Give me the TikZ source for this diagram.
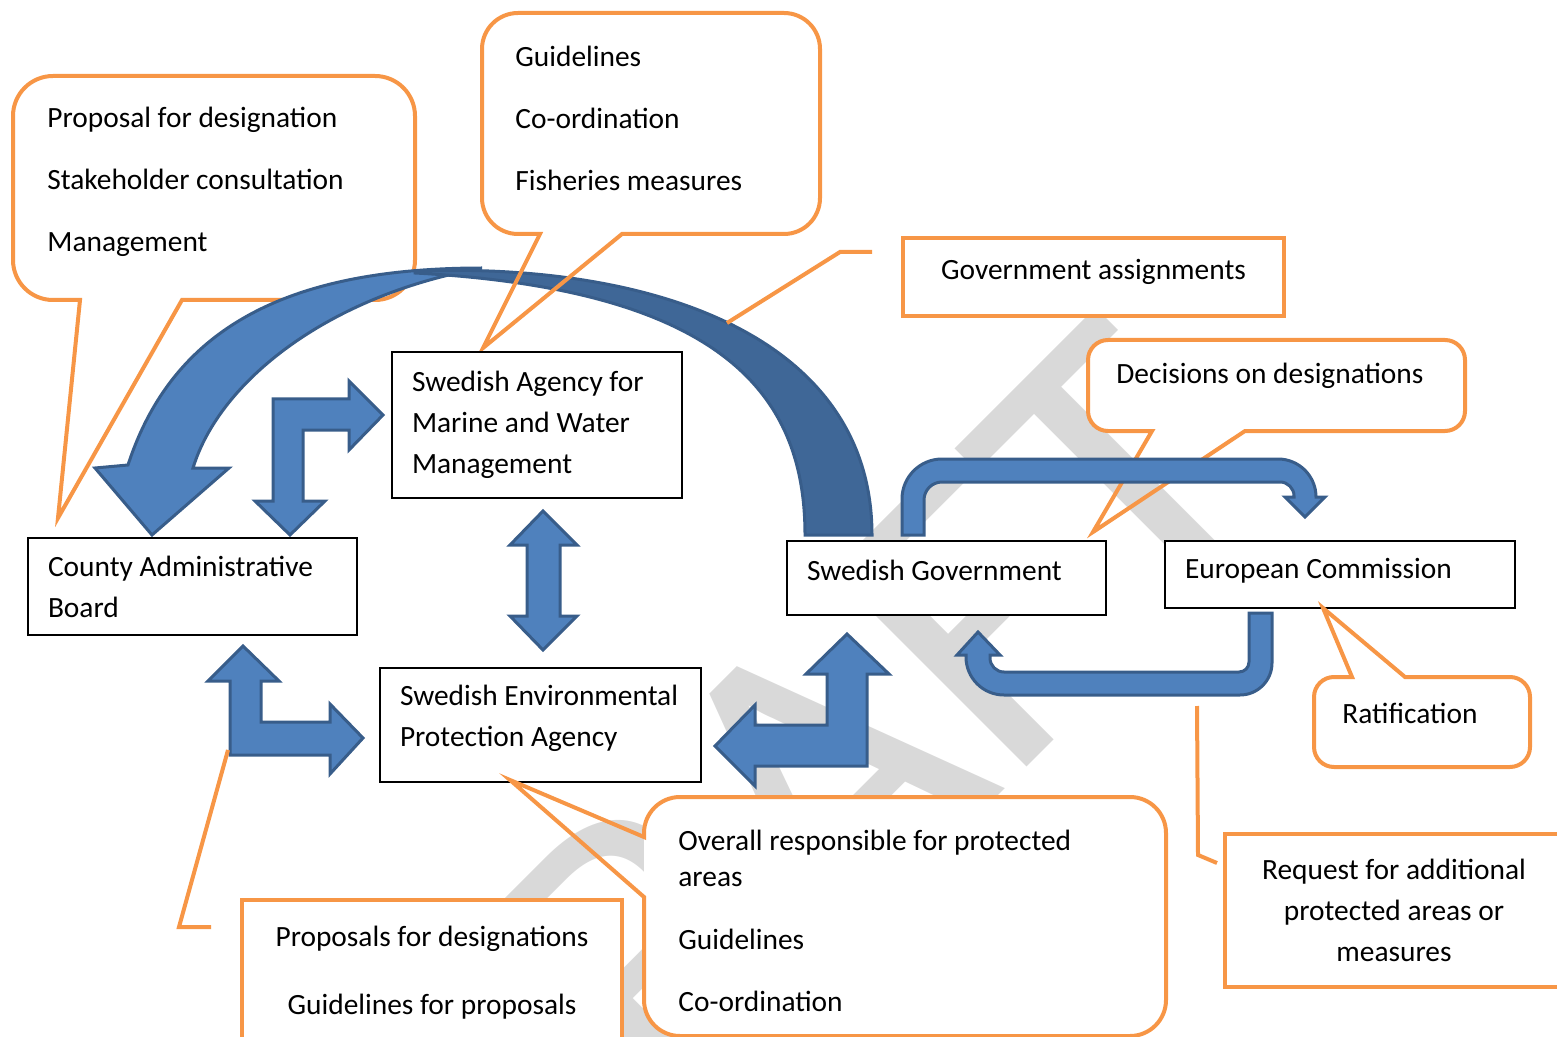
\documentclass[tikz,border=0pt]{standalone}
\usepackage{fontspec}
\setmainfont{Carlito}

\definecolor{callorange}{HTML}{F79646}
\definecolor{arrowblue}{HTML}{4F81BD}
\definecolor{arrowedge}{HTML}{385D8A}
\definecolor{arrowshade}{HTML}{3F6797}
\definecolor{draftgray}{HTML}{D9D9D9}

\tikzset{
  agency/.style={draw=black, line width=0.75pt, fill=white, align=flush left,
    inner xsep=10pt, font=\fontsize{14.7}{20.5}\selectfont},
  callout/.style={draw=callorange, line width=2pt},
  calloutbox/.style={callout, fill=white, align=center,
    font=\fontsize{14.7}{20.5}\selectfont},
  calltext/.style={anchor=west, align=left, inner sep=0pt,
    font=\fontsize{14.7}{20.5}\selectfont},
  blockarrow/.style={fill=arrowblue, draw=arrowedge, line width=1.5pt},
  draftmark/.style={rotate=45, text=draftgray, inner sep=0pt,
    font=\fontsize{215}{215}\selectfont}
}

\begin{document}
\begin{tikzpicture}[x=0.5pt,y=-0.5pt]
\useasboundingbox (0,0) rectangle (1557,1037);

% watermark, behind everything
\node[draftmark] (draft) at (789,810) {DRAFT};

% county callout
\fill[white, rounded corners=20pt] (13,76) rectangle (415,300);
\draw[callout] (58,518) -- (182,300) [rounded corners=20pt] -- (415,300) -- (415,76)
  -- (13,76) -- (13,300) [sharp corners] -- (80,300) -- cycle;
\node[calltext] (countytasks) at (47,181.5)
  {Proposal for designation\\[10.5pt]Stakeholder consultation\\[10.5pt]Management};

% big curved arrow: light front part with head, dark back part
\draw[blockarrow] (128,465) .. controls (175,320) and (300,268) .. (482,268)
  .. controls (330,295) and (220,380) .. (193,468)
  -- (229,468) -- (152,535) -- (95,468) -- cycle;
\draw[blockarrow, fill=arrowshade] (415,271) .. controls (660,262) and (872,340) .. (872,535)
  -- (805,535) .. controls (805,400) and (730,290) .. (415,273) -- cycle;

% marine agency callout
\draw[callout] (483,348) -- (622,234) [rounded corners=18pt] -- (820,234) -- (820,13)
  -- (482,13) -- (482,234) [sharp corners] -- (540,234) -- cycle;
\node[calltext] (swamtasks) at (515,118.5)
  {Guidelines\\[10.5pt]Co-ordination\\[10.5pt]Fisheries measures};

% government assignments
\node[calloutbox, minimum width=190.5pt, minimum height=39pt] (assign) at (1093.5,277)
  {\raisebox{2.5pt}[\height][\depth]{Government assignments}};
\coordinate (assignstart) at (872,252);
\coordinate (assignbend) at (840,252);
\coordinate (assignfoot) at (727,323);
\draw[callout] (assignstart) -- (assignbend) -- (assignfoot);

% authorities
\node[agency, minimum width=145pt, minimum height=73pt, text width=125pt] (swam) at (537,425)
  {Swedish Agency for\\Marine and Water\\Management};
\node[agency, minimum width=164.5pt, minimum height=48.5pt, text width=144.5pt] (county) at (192.5,586.5)
  {County Administrative\\Board};
\node[agency, minimum width=160.5pt, minimum height=57pt, text width=140.5pt] (epa) at (540.5,725)
  {Swedish~Environmental\\Protection Agency\\[-11pt]\mbox{}};
\node[agency, minimum width=159.5pt, minimum height=37pt, text width=139.5pt] (gov) at (946.5,578)
  {\raisebox{4pt}[\height][\depth]{Swedish Government}};
\node[agency, minimum width=175pt, minimum height=33.5pt, text width=155pt] (ec) at (1340,574.5)
  {\raisebox{2pt}[\height][\depth]{European Commission}};

% decisions callout
\fill[white, rounded corners=10pt] (1088,340) rectangle (1465,431);
\draw[callout] (1093,532) -- (1245,431) [rounded corners=10pt] -- (1465,431) -- (1465,340)
  -- (1088,340) -- (1088,431) [sharp corners] -- (1152,431) -- cycle;
\node[calltext] (decisions) at (1116,376) {Decisions on designations};

% block arrows between the authorities
\draw[blockarrow] (290,535) -- (325,501) -- (303,501) -- (303,430) -- (349,430) -- (349,450)
  -- (383,415) -- (349,381) -- (349,399) -- (273,399) -- (273,501) -- (255,501) -- cycle;
\draw[blockarrow] (543,511) -- (577,545) -- (560,545) -- (560,616) -- (577,616) -- (543,650)
  -- (510,616) -- (527,616) -- (527,545) -- (510,545) -- cycle;
\draw[blockarrow] (243,646) -- (279,681) -- (261,681) -- (261,722) -- (330,722) -- (330,704)
  -- (363,738) -- (330,774) -- (330,755) -- (230,755) -- (230,681) -- (208,681) -- cycle;
\draw[blockarrow] (847,634) -- (889,674) -- (867,674) -- (867,766) -- (755,766) -- (755,786)
  -- (715,746) -- (755,705) -- (755,725) -- (827,725) -- (827,674) -- (806,674) -- cycle;

% u-turn arrows between government and commission
\draw[blockarrow] (913,535) -- (902,535) [rounded corners=20pt] -- (902,459)
  [rounded corners=19pt] -- (1316,459) [sharp corners] -- (1316,497) -- (1325,497)
  -- (1305,517) -- (1285,497) -- (1294,497) [rounded corners=7pt] -- (1294,482)
  [rounded corners=9pt] -- (924,482) [sharp corners] -- (924,535) -- cycle;
\draw[blockarrow] (1260,613) -- (1272,613) [rounded corners=16pt] -- (1272,695)
  [rounded corners=19pt] -- (966,695) [sharp corners] -- (966,655) -- (957,655)
  -- (978,632) -- (1000,655) -- (990,655) [rounded corners=7pt] -- (990,672)
  [rounded corners=5pt] -- (1249,672) [sharp corners] -- (1249,613) -- cycle;

% ratification
\fill[white, rounded corners=10pt] (1314,677) rectangle (1530,767);
\draw[callout] (1323,608) -- (1352,677) [rounded corners=10pt] -- (1314,677) -- (1314,767)
  -- (1530,767) -- (1530,677) [sharp corners] -- (1405,677) -- cycle;
\node[calltext] (ratification) at (1342,713) {Ratification};

% request from the commission
\node[calloutbox, minimum width=169pt, minimum height=76.5pt] (request) at (1394,910.5)
  {Request for additional\\protected areas or\\measures};
\coordinate (requeststart) at (1217,863);
\coordinate (requestbend) at (1198,855);
\coordinate (requestfoot) at (1197,706);
\draw[callout] (requeststart) -- (requestbend) -- (requestfoot);

% epa callout
\fill[white, rounded corners=18pt] (644,797) rectangle (1166,1036);
\draw[callout] (510,780) -- (644,837) [rounded corners=18pt] -- (644,797) -- (1166,797)
  -- (1166,1036) -- (644,1036) [sharp corners] -- (644,897) -- cycle;
\node[calltext, font=\fontsize{14.7}{18}\selectfont] (epatasks) at (678,920.5)
  {Overall responsible for protected\\areas\\[13.5pt]Guidelines\\[13pt]Co-ordination};

% proposals from the county boards
\node[calloutbox, minimum width=190pt, minimum height=72.5pt] (proposals) at (432,972.5)
  {Proposals for designations\\[13.5pt]Guidelines for proposals};
\coordinate (propstart) at (211,927);
\coordinate (propbend) at (179,927);
\coordinate (propfoot) at (228,750);
\draw[callout] (propstart) -- (propbend) -- (propfoot);
\end{tikzpicture}
\end{document}
